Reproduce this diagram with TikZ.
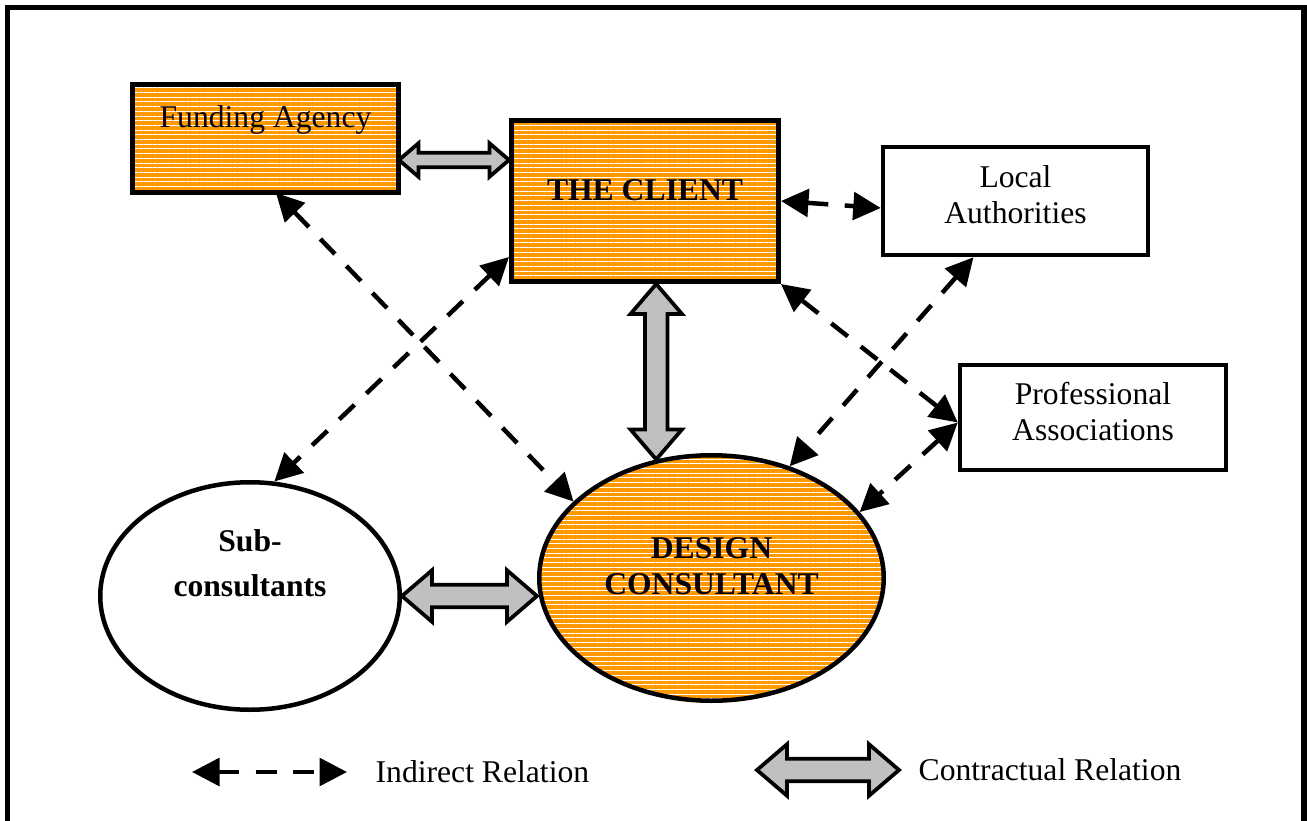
\documentclass[tikz,border=0pt]{standalone}
\usepackage{fontspec}
\setmainfont{Liberation Serif}
\usepackage{tikz}
\usetikzlibrary{shapes,positioning,arrows.meta,patterns.meta,calc}
\definecolor{hatchorange}{RGB}{255,153,0}
\definecolor{arrowgrey}{RGB}{192,192,192}
\newcommand\diagsize{\fontsize{18pt}{20.4pt}\selectfont}
\tikzset {
hatched/.style={preaction={fill=hatchorange},pattern={Lines[angle=0,distance=0.094cm,line width=0.018cm]},pattern color=white},
core/.style={shape=rectangle,draw,line width=0.1cm,hatched,inner sep=0pt},
outside/.style={shape=rectangle,draw,line width=0.09cm,fill=white,inner sep=0pt},
firm/.style={shape=ellipse,draw,line width=0.09cm,inner sep=0pt},
indirect/.style={<->,dash pattern=on 0.42cm off 0.33cm,line width=0.09cm},
contractual/.style={draw,fill=arrowgrey,line width=0.075cm,line join=miter}
}
% grey double arrow from #2 to #3, #1 scales its size
\newcommand\contract[3][1]{%
\draw[contractual] let \p1=(#2), \p2=(#3), \n1={atan2(\y2-\y1,\x2-\x1)}, \n2={veclen(\x2-\x1,\y2-\y1)} in
[shift={(\p1)},rotate=\n1,scale=#1]
(0,0) -- (0.6cm,0.515cm) -- (0.6cm,0.225cm) -- ({\n2*1pt/#1-0.6cm},0.225cm) -- ({\n2*1pt/#1-0.6cm},0.515cm)
-- ({\n2*1pt/#1},0cm) -- ({\n2*1pt/#1-0.6cm},-0.515cm) -- ({\n2*1pt/#1-0.6cm},-0.225cm)
-- (0.6cm,-0.225cm) -- (0.6cm,-0.515cm) -- cycle;}

\begin{document}
\begin{tikzpicture}
[>={Triangle[length=0.55cm,width=0.55cm]},font=\diagsize]
\useasboundingbox (0,0) rectangle (26.14,-16.42);
\draw[line width=0.11cm] (0.15,-16.6) -- (0.15,-0.15) -- (26.08,-0.15) -- (26.08,-16.6);

\node[core,minimum width=5.32cm,minimum height=2.16cm,text height=0.45cm,text depth=0.91cm] (funding agency) at (5.31,-2.77) {Funding Agency};
\node[core,minimum width=5.34cm,minimum height=3.22cm,text height=0.42cm,text depth=0.44cm,font=\diagsize\bfseries] (client) at (12.9,-4.02) {THE CLIENT};
\node[outside,minimum width=5.3cm,minimum height=2.16cm,align=center,text height=0.88cm,text depth=0cm] (local authorities) at (20.31,-4.02) {Local\\Authorities};
\node[outside,minimum width=5.32cm,minimum height=2.1cm,align=center,text height=0.9cm,text depth=0cm] (professional associations) at (21.86,-8.35) {Professional\\Associations};
\node[firm,hatched,minimum width=6.89cm,minimum height=4.91cm,align=center,text height=0.64cm,text depth=0cm,font=\diagsize\bfseries] (design consultant) at (14.23,-11.56) {DESIGN\\CONSULTANT};
\node[firm,minimum width=5.99cm,minimum height=4.55cm,align=center,text height=0.45cm,text depth=0.45cm,font=\diagsize\bfseries] (subconsultants) at (5.0,-11.92) {Sub-\\[0.18cm]consultants};

\coordinate (fund arrow) at ([yshift=-0.43cm]funding agency.east);
\contract[0.65]{fund arrow}{fund arrow -| client.west}
\contract{client.south -| design consultant.115}{design consultant.115}
\contract{subconsultants.east}{subconsultants.east -| design consultant.west}

\draw[indirect] ([xshift=0.21cm]funding agency.south) -- (design consultant.151);
\draw[indirect] ([yshift=0.54cm]client.south west) -- (subconsultants.78);
\draw[indirect] (client.east) -- ([yshift=-0.14cm]local authorities.west);
\draw[indirect] (client.south east) -- ([yshift=-0.1cm]professional associations.west);
\draw[indirect] ([xshift=-0.84cm]local authorities.south) -- (design consultant.55);
\draw[indirect] ([yshift=-0.1cm]professional associations.west) -- (design consultant.24);

% legend
\coordinate (indirect left) at (3.84,-15.44);
\coordinate (indirect right) at (6.94,-15.44);
\draw[indirect] (indirect left) -- (indirect right);
\node (indirect label) [right=0.45cm of indirect right] {Indirect Relation};
\coordinate (contract left) at (15.14,-15.4);
\coordinate (contract right) at (17.98,-15.4);
\contract{contract left}{contract right}
\node (contract label) [right=0.27cm of contract right] {Contractual Relation};
\end{tikzpicture}
\end{document}
